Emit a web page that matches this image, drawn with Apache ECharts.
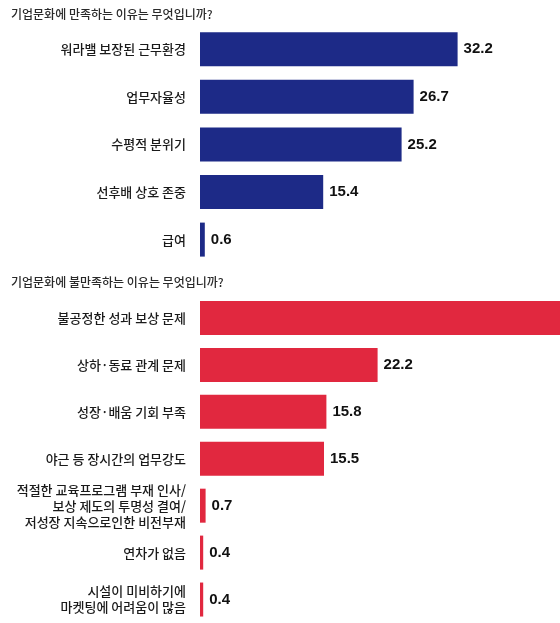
<!DOCTYPE html>
<html>
<head>
<meta charset="utf-8">
<script src="https://cdn.jsdelivr.net/npm/echarts@6/dist/echarts.min.js"></script>
<style>
html,body{margin:0;padding:0;background:#ffffff;}
#c{width:560px;height:623px;}
</style>
</head>
<body>
<div id="c"></div>
<script>
const satTitle = '기업문화에 만족하는 이유는 무엇입니까?';
const satCategories = ['워라밸 보장된 근무환경', '업무자율성', '수평적 분위기', '선후배 상호 존중', '급여'];
const satValues = [32.2, 26.7, 25.2, 15.4, 0.6];

const dissatTitle = '기업문화에 불만족하는 이유는 무엇입니까?';
const dissatCategories = [
  '불공정한 성과 보상 문제',
  '상하·동료 관계 문제',
  '성장·배움 기회 부족',
  '야근 등 장시간의 업무강도',
  '적절한 교육프로그램 부재 인사/\n보상 제도의 투명성 결여/\n저성장 지속으로인한 비전부재',
  '연차가 없음',
  '시설이 미비하기에\n마켓팅에 어려움이 많음'
];
const dissatValues = [45.0, 22.2, 15.8, 15.5, 0.7, 0.4, 0.4];

const chart = echarts.init(document.getElementById('c'));
const catFont = 'Noto Sans CJK KR';
const valFont = '"Liberation Sans Narrow", "Arial Narrow", "Liberation Sans", Arial, sans-serif';

function yAx(idx, cats) {
  return {
    type: 'category', gridIndex: idx, data: cats, inverse: true,
    axisLine: {show: false}, axisTick: {show: false}, splitLine: {show: false},
    axisLabel: {
      margin: 14, color: '#1a1a1a', fontSize: 13, fontWeight: 500, fontFamily: catFont,
      lineHeight: 16, align: 'right'
    }
  };
}
function xAx(idx) {
  return {
    type: 'value', gridIndex: idx, min: 0, max: 45, show: false
  };
}
function ser(idx, vals, color) {
  return {
    type: 'bar', xAxisIndex: idx, yAxisIndex: idx, data: vals,
    barWidth: 34,
    itemStyle: {color: color},
    label: {
      show: true, position: 'right', distance: 6,
      formatter: p => p.value.toFixed(1),
      color: '#111', fontSize: 15, fontWeight: 'bold', fontFamily: valFont
    },
    silent: true, animation: false
  };
}

chart.setOption({
  backgroundColor: '#ffffff',
  animation: false,
  title: [
    {text: satTitle, left: 6, top: 3, textStyle: {fontSize: 12, fontWeight: 500, color: '#2a2a2a', fontFamily: catFont}},
    {text: dissatTitle, left: 6, top: 271, textStyle: {fontSize: 12, fontWeight: 500, color: '#2a2a2a', fontFamily: catFont}}
  ],
  grid: [
    {left: 200, width: 360, top: 25.4, height: 238},
    {left: 200, width: 360, top: 294.5, height: 333.2}
  ],
  xAxis: [xAx(0), xAx(1)],
  yAxis: [yAx(0, satCategories), yAx(1, dissatCategories)],
  series: [ser(0, satValues, '#1d2a87'), ser(1, dissatValues, '#e1283f')]
});
</script>
</body>
</html>
